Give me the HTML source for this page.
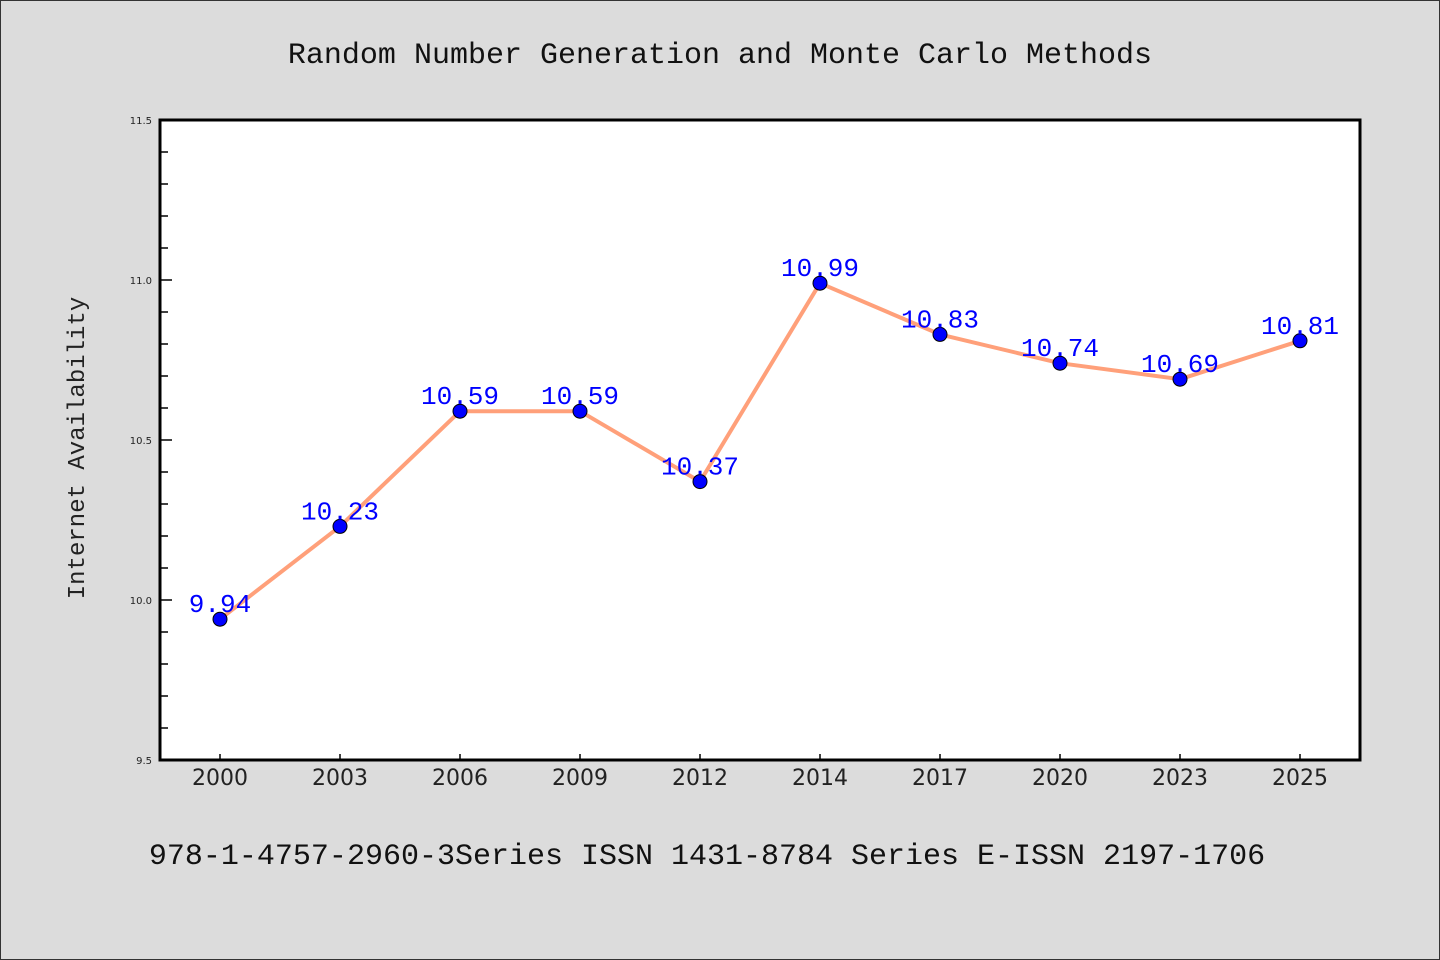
<!DOCTYPE html>
<html><head><meta charset="utf-8"><style>
body{margin:0;background:#dcdcdc;}
svg{display:block}
</style></head><body>
<svg width="1440" height="960" xmlns="http://www.w3.org/2000/svg">
<rect x="0.5" y="0.5" width="1439" height="959" fill="#dcdcdc" stroke="#333" stroke-width="1"/>
<text x="720" y="63" text-anchor="middle" font-family="'Liberation Mono', 'WenQuanYi Zen Hei', monospace" font-size="30" fill="#111">Random Number Generation and Monte Carlo Methods</text>
<rect x="160" y="120" width="1200" height="640" fill="#fff"/>
<g id="ticks"></g>
<g id="series"></g>
<rect x="160" y="120" width="1200" height="640" fill="none" stroke="#000" stroke-width="3"/>
<text transform="translate(84,448) rotate(-90)" text-anchor="middle" font-family="'Liberation Mono', monospace" font-size="24" fill="#222">Internet Availability</text>
<text x="707" y="864" text-anchor="middle" font-family="'Liberation Mono', monospace" font-size="30" fill="#111">978-1-4757-2960-3Series ISSN 1431-8784 Series E-ISSN 2197-1706</text>
</svg>
<script>
const categories=["2000","2003","2006","2009","2012","2014","2017","2020","2023","2025"];
const values=[9.94,10.23,10.59,10.59,10.37,10.99,10.83,10.74,10.69,10.81];
const yTickLabels=["9.5","10.0","10.5","11.0","11.5"];
const yMin=9.5,yMax=11.5;
const L=160,R=1360,T=120,B=760;
const NS="http://www.w3.org/2000/svg";
const band=(R-L)/categories.length;
const xS=i=>L+band*(i+0.5);
const yS=v=>B-(v-yMin)/(yMax-yMin)*(B-T);
function mk(tag,attrs,parent){const e=document.createElementNS(NS,tag);for(const k in attrs)e.setAttribute(k,attrs[k]);parent.appendChild(e);return e;}
const tg=document.getElementById('ticks'),sg=document.getElementById('series');
// minor ticks every 0.1
for(let k=0;k<=Math.round((yMax-yMin)*10);k++){
  const v=yMin+k*0.1,y=yS(v),major=k%5===0;
  const t=mk('line',{x1:L,x2:L+(major?12:8),y1:y,y2:y,stroke:'#000','stroke-width':1.5},tg);
  
  
}
yTickLabels.forEach(s=>{
  const t=mk('text',{x:L-8,y:yS(parseFloat(s))+4,'text-anchor':'end','font-family':"'DejaVu Sans',sans-serif",'font-size':10,fill:'#222'},tg);
  t.textContent=s;
  
  
});
categories.forEach((c,i)=>{
  const x=xS(i);
  const t=mk('line',{x1:x,x2:x,y1:B,y2:B-6,stroke:'#000','stroke-width':1.5},tg);
  
  
  const l=mk('text',{x:x,y:B+25,'text-anchor':'middle','font-family':"'DejaVu Sans',sans-serif",'font-size':22,fill:'#222'},tg);
  l.textContent=c;
  
  
});
const pl=mk('polyline',{points:values.map((v,i)=>xS(i)+','+yS(v)).join(' '),fill:'none',stroke:'#ffa07a','stroke-width':4,'stroke-linejoin':'round'},sg);


values.forEach((v,i)=>{
  const c=mk('circle',{cx:xS(i),cy:yS(v),r:7,fill:'#0000ff',stroke:'#000','stroke-width':1},sg);
  
  
});
values.forEach((v,i)=>{
  const t=mk('text',{x:xS(i),y:yS(v)-7,'text-anchor':'middle','font-family':"'Liberation Mono',monospace",'font-size':26,fill:'#0000ff'},sg);
  t.textContent=v.toFixed(2);
  
  
});
</script>
</body></html>
